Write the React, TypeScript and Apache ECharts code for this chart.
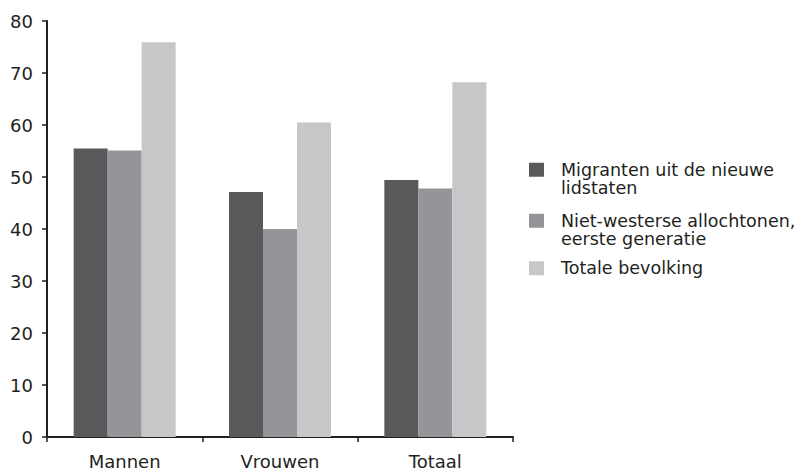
import React, { useEffect, useRef } from "react";
import * as echarts from "echarts";

const categories = ["Mannen", "Vrouwen", "Totaal"];
const seriesNames = [
  "Migranten uit de nieuwe\nlidstaten",
  "Niet-westerse allochtonen,\neerste generatie",
  "Totale bevolking",
];
const migranten = [55.5, 47.1, 49.4];
const nietWesters = [55.1, 40.0, 47.8];
const totaal = [75.9, 60.5, 68.2];
const colors = ["#58595b", "#939598", "#c6c7c9"];
const legendTops = [142, 193, 259];

const FONT = "DejaVu Sans";
const TEXT = "#231f20";

export default function App() {
  const ref = useRef<HTMLDivElement>(null);
  useEffect(() => {
    if (!ref.current) return;
    const chart = echarts.init(ref.current, undefined, { renderer: "svg" });
    const values = [migranten, nietWesters, totaal];
    chart.setOption({
      animation: false,
      backgroundColor: "#ffffff",
      grid: { left: 47, right: 290, top: 21, bottom: 32, containLabel: false },
      xAxis: {
        type: "category",
        data: categories,
        axisLine: { lineStyle: { color: TEXT, width: 2 } },
        axisTick: { show: true, length: 5, lineStyle: { color: TEXT, width: 1.5 } },
        axisLabel: { color: TEXT, fontFamily: FONT, fontSize: 18, margin: 15 },
      },
      yAxis: {
        type: "value",
        min: 0,
        max: 80,
        interval: 10,
        splitLine: { show: false },
        axisLine: { show: true, lineStyle: { color: TEXT, width: 2 } },
        axisTick: { show: true, length: 5, lineStyle: { color: TEXT, width: 1.5 } },
        axisLabel: { color: TEXT, fontFamily: FONT, fontSize: 18, margin: 14 },
      },
      legend: seriesNames.map((n, i) => ({
        data: [n],
        orient: "vertical",
        left: 529,
        top: legendTops[i],
        padding: 0,
        itemWidth: 15,
        itemHeight: 14,
        icon: "rect",
        selectedMode: false,
        formatter: (name: string) => (name.includes("\n") ? "\n" + name : name),
        textStyle: {
          color: TEXT,
          fontFamily: FONT,
          fontSize: 17.5,
          lineHeight: 18.5,
          padding: [0, 0, 0, 12],
        },
      })),
      series: seriesNames.map((n, i) => ({
        name: n,
        type: "bar",
        data: values[i],
        barWidth: 34,
        barGap: "0%",
        itemStyle: { color: colors[i] },
      })),
    });
    return () => chart.dispose();
  }, []);
  return (
    <div
      ref={ref}
      style={{ position: "fixed", left: 0, top: 0, width: 803, height: 470 }}
    />
  );
}
